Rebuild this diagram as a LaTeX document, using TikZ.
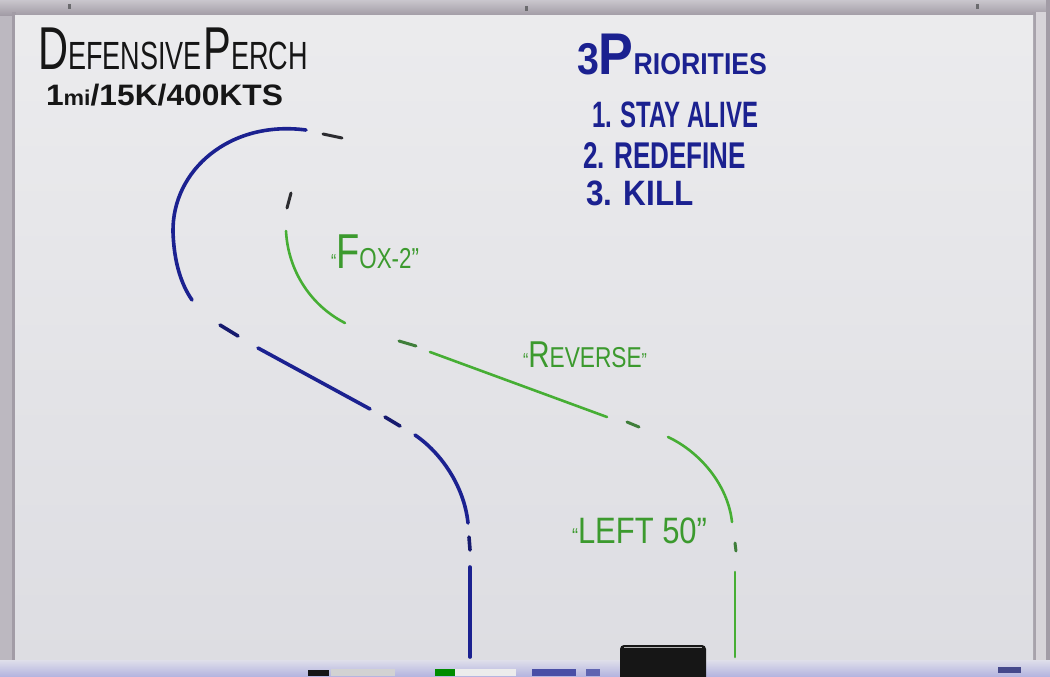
\documentclass[tikz,border=0pt]{standalone}
\usepackage{fontspec}
\setmainfont{Liberation Sans}
\usepackage{graphicx}
\newlength\pxu \setlength\pxu{0.75pt}
\newcommand\fitbox[3]{\resizebox*{#1\pxu}{#2\pxu}{#3}}
\newcommand\fs[2]{{\fontsize{#1}{#1}\selectfont #2}}
\definecolor{framecol}{HTML}{BCB8C0}
\definecolor{framedark}{HTML}{A29CA6}
\definecolor{boardcol}{HTML}{E3E3E6}
\definecolor{boardlow}{HTML}{DDDDE2}
\definecolor{traycol}{HTML}{C9C9DC}
\definecolor{inkblack}{HTML}{161616}
\definecolor{inkblue}{HTML}{1B2190}
\definecolor{inkbluedk}{HTML}{161A6E}
\definecolor{inkgreen}{HTML}{46AE34}
\definecolor{inkgreentxt}{HTML}{3C9A2E}
\definecolor{inkgreendk}{HTML}{3F7E3A}
\definecolor{inkgray}{HTML}{2C2C30}
\tikzset{
  lbl/.style={anchor=north west, inner sep=0pt, outer sep=0pt},
  bluepen/.style={draw=inkblue, line width=3.6\pxu, line cap=round},
  bluedash/.style={draw=inkbluedk, line width=3.6\pxu, line cap=round},
  greenpen/.style={draw=inkgreen, line width=2.6\pxu, line cap=round},
  greendash/.style={draw=inkgreendk, line width=3\pxu, line cap=round},
  graydash/.style={draw=inkgray, line width=3\pxu, line cap=round},
}
\begin{document}
\begin{tikzpicture}[x=0.75pt,y=-0.75pt]
\useasboundingbox (0,0) rectangle (1050,676);
% frame
\fill[framecol] (0,0) rectangle (1050,676);
\shade[top color=framecol!80!white, bottom color=framedark] (0,0) rectangle (1050,15);
\fill[framedark] (12,12) rectangle (16,664);
\fill[framedark!80!framecol] (1032,12) rectangle (1036,664);
\fill[framecol!60!white] (1036,12) rectangle (1046,664);
\fill[framedark] (1046,0) rectangle (1050,676);
% board surface
\shade[top color=boardcol!70!white, bottom color=boardlow] (15,15) rectangle (1033,662);
% tray
\shade[top color=traycol!60!white, bottom color=traycol!90!blue] (0,660) rectangle (1050,676);
% pins on top
\fill[inkgray!70] (68,4) rectangle (71,9);
\fill[inkgray!70] (525,6) rectangle (528,11);
\fill[inkgray!70] (976,4) rectangle (979,9);
% markers on tray
\fill[inkblack] (308,670) rectangle (329,676);
\fill[gray!35] (331,669) rectangle (395,676);
\fill[green!55!black] (435,669) rectangle (455,676);
\fill[white!85!gray] (455,669) rectangle (516,676);
\fill[inkblue!80] (532,669) rectangle (576,676);
\fill[inkblue!70] (586,669) rectangle (600,676);
\fill[inkbluedk!80] (998,667) rectangle (1021,673);
% eraser
\fill[inkblack, rounded corners=4\pxu] (620,645) rectangle (706,684);
\draw[gray!60, line width=1\pxu] (624,647) -- (702,647);

% ---------- blue track ----------
\draw[bluepen] (306,130) .. controls (230,120) and (172,170) .. (173,232)
               .. controls (174,262) and (181,284) .. (192,300);
\draw[graydash] (323,134) -- (342,138);
\draw[bluedash] (220,325) -- (238,336);
\draw[bluepen] (258,348) -- (370,409);
\draw[bluedash] (385,417) -- (400,426);
\draw[bluepen] (415,435) .. controls (440,452) and (464,485) .. (468,523);
\draw[bluedash] (469,537) -- (470,550);
\draw[bluepen] (470,567) -- (470,657);

% ---------- green track ----------
\draw[graydash] (287,208) -- (291,193);
\draw[greenpen] (286,231) .. controls (288,270) and (310,305) .. (345,323);
\draw[greendash] (399,341) -- (416,346);
\draw[greenpen] (430,352) -- (607,417);
\draw[greendash] (627,422) -- (639,427);
\draw[greenpen] (668,437) .. controls (700,452) and (728,485) .. (732,522);
\draw[greendash] (735,543) -- (736,551);
\draw[greenpen] (735,572) -- (735,657);

% ---------- texts ----------
\node[lbl, text=inkblack] (title) at (38,28)
  {\fitbox{270}{42}{\fs{40}{D}\fs{26}{EFENSIVE}\hspace{2pt}\fs{40}{P}\fs{26}{ERCH}}};
\node[lbl, text=inkblack] (sub) at (46,84)
  {\fitbox{237}{22}{\bfseries\fs{22}{1}\fs{16}{mi}\fs{22}{/15K/400KTS}}};
\node[lbl, text=inkblue] (prio) at (577,34)
  {\fitbox{190}{41}{\bfseries\fs{31}{3}\fs{41}{P}\fs{21}{RIORITIES}}};
\node[lbl, text=inkblue] (p1) at (592,102)
  {\fitbox{166}{26}{\bfseries\fs{24}{1. STAY ALIVE}}};
\node[lbl, text=inkblue] (p2) at (583,142)
  {\fitbox{163}{26}{\bfseries\fs{24}{2. REDEFINE}}};
\node[lbl, text=inkblue] (p3) at (586,181)
  {\fitbox{108}{25}{\bfseries\fs{24}{3. KILL}}};
\node[lbl, text=inkgreentxt] (fox) at (331,235)
  {\fitbox{88}{34}{\fs{14}{“}\fs{34}{F}\fs{20}{OX-2”}}};
\node[lbl, text=inkgreentxt] (rev) at (523,342)
  {\fitbox{124}{26}{\fs{14}{“}\fs{26}{R}\fs{20}{EVERSE}\fs{14}{”}}};
\node[lbl, text=inkgreentxt] (left) at (572,518)
  {\fitbox{135}{26}{\fs{14}{“}\fs{24}{LEFT 50”}}};
\end{tikzpicture}
\end{document}
